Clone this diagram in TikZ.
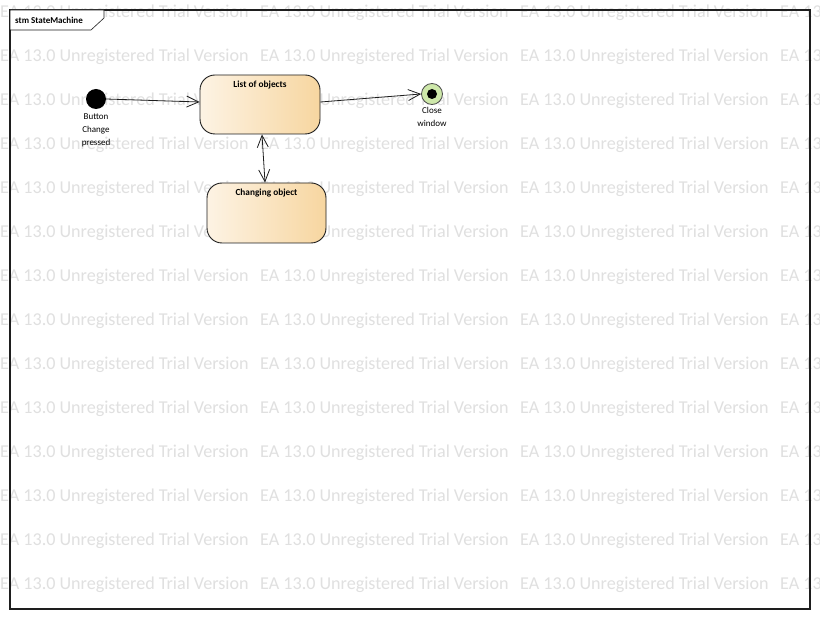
\documentclass[tikz,border=0pt]{standalone}
\usepackage{fontspec}
\setmainfont{Carlito}
\usetikzlibrary{arrows.meta}
\definecolor{wm}{RGB}{224,224,224}
\definecolor{stL}{RGB}{253,243,228}
\definecolor{stR}{RGB}{247,214,160}
\definecolor{finG}{RGB}{206,232,170}
\definecolor{lineC}{RGB}{30,30,30}
\tikzset{
  wmtext/.style={anchor=west, inner sep=0pt, text=wm, font=\fontsize{18.1}{19}\selectfont},
  statebox/.style={draw=lineC, line width=0.9pt, rounded corners=15pt, left color=stL, right color=stR, inner sep=0pt},
  title/.style={font=\bfseries\fontsize{9.3}{11}\selectfont, inner sep=0pt, anchor=center},
  small/.style={font=\fontsize{9}{13}\selectfont, align=center, inner sep=0pt},
  arr/.style={draw=lineC, line width=0.8pt, -{Straight Barb[length=12pt,width=11pt]}},
  darr/.style={draw=lineC, line width=0.8pt, {Straight Barb[length=12pt,width=11pt]}-{Straight Barb[length=12pt,width=11pt]}}
}
\begin{document}
\begin{tikzpicture}[x=1pt,y=-1pt]
\useasboundingbox (0,0) rectangle (820,620);
\clip (0,0) rectangle (820,620);
\fill[white] (0,0) rectangle (820,620);
% watermark
\foreach \r in {0,...,13}{
  \foreach \c in {0,1,2,3}{
    \node[wmtext] (wm\r\c) at ({\c*260}, {13+\r*44}) {EA 13.0 Unregistered Trial Version};
  }
}
% frame
\draw[lineC, line width=1.1pt] (10,10) rectangle (810,609);
\draw[lineC, line width=0.6pt, fill=white] (10,10) -- (104,10) -- (104,18) -- (91,30) -- (10,30) -- cycle;
\node[font=\bfseries\fontsize{9}{11}\selectfont, anchor=west, inner sep=0pt] (frametitle) at (15,20) {stm StateMachine};
% nodes
\node[circle, fill=black, minimum size=20pt, inner sep=0pt] (init) at (96,99) {};
\node[small, anchor=north] (initlbl) at (96,113.5) {Button\\Change\\pressed};
\node[statebox, minimum width=120pt, minimum height=59pt] (list) at (260,104.5) {};
\node[title] (listt) at (260,85.5) {List of objects};
\node[statebox, minimum width=119pt, minimum height=60pt] (chg) at (266.5,213) {};
\node[title] (chgt) at (266.5,193.5) {Changing object};
\node[circle, draw=lineC!80, fill=finG, line width=0.8pt, minimum size=21pt, inner sep=0pt] (fin) at (432,94) {};
\node[circle, fill=black, minimum size=10pt, inner sep=0pt] (finin) at (fin.center) {};
\node[small, anchor=north] (finlbl) at (432,107) {Close\\window};
% edges
\draw[arr] (init.east) -- ([yshift=2.5pt]list.west);
\draw[arr] ([yshift=2.5pt]list.east) -- (fin.west);
\draw[darr] ([xshift=2pt]list.south) -- ([xshift=-1.5pt]chg.north);
\end{tikzpicture}
\end{document}
